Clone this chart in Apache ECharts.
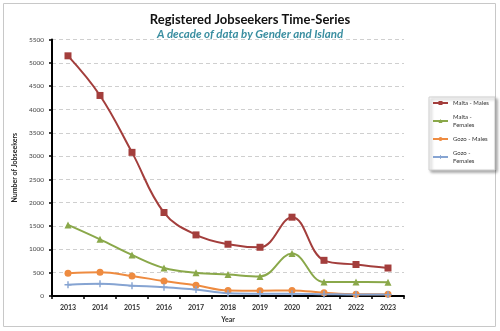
<!DOCTYPE html>
<html><head><meta charset="utf-8">
<script src="https://cdn.jsdelivr.net/npm/echarts@6/dist/echarts.min.js"></script>
<style>html,body{margin:0;padding:0;background:#fff}#c{width:500px;height:331px}</style>
</head><body><div id="c"></div>
<script>
const years = ['2013','2014','2015','2016','2017','2018','2019','2020','2021','2022','2023'];
const maltaMales = [5150,4300,3080,1790,1310,1110,1045,1690,765,675,600];
const maltaFemales = [1525,1215,880,600,500,460,420,910,300,300,295];
const gozoMales = [490,510,430,320,230,120,115,120,70,40,40];
const gozoFemales = [240,260,220,190,140,60,50,50,40,30,30];
const seriesNames = ['Malta - Males','Malta - Females','Gozo - Males','Gozo - Females'];
const legendLabels = {'Malta - Males':'Malta - Males','Malta - Females':'Malta -\nFemales','Gozo - Males':'Gozo - Males','Gozo - Females':'Gozo -\nFemales'};
const FONT = 'Lato, "Open Sans", sans-serif';
const plus = 'path://M4,0 L6,0 L6,4 L10,4 L10,6 L6,6 L6,10 L4,10 L4,6 L0,6 L0,4 L4,4 Z';
function mk(name, data, color, symbol, size){
  return {name, type:'line', data, smooth:0.4, symbol, symbolSize:size,
    lineStyle:{color, width:2}, itemStyle:{color}, z:3};
}
const chart = echarts.init(document.getElementById('c'), null, {renderer:'canvas'});
chart.setOption({
  animation:false,
  textStyle:{fontFamily:FONT},
  graphic:[{type:'rect', shape:{x:3.5,y:3.5,width:492,height:323}, style:{fill:'none', stroke:'#c8c8c8', lineWidth:1}, z:-1}],
  title:[{text:'Registered Jobseekers Time-Series', left:'center', top:8,
    textStyle:{fontFamily:FONT, fontSize:13, fontWeight:'bold', color:'#111'}},
    {text:'A decade of data by Gender and Island', left:'center', top:23,
    textStyle:{fontFamily:FONT, fontSize:11.5, fontWeight:'bold', fontStyle:'italic', color:'#3a8ea0'}}],
  grid:{left:52, right:96, top:39.5, bottom:35, containLabel:false},
  legend:{orient:'vertical', left:429, top:97, width:54, itemWidth:15, itemHeight:5, itemGap:6,
    padding:[2,6,5,3], backgroundColor:'#fff', borderColor:'#d0d0d0', borderWidth:1,
    shadowColor:'rgba(0,0,0,0.35)', shadowBlur:3, shadowOffsetX:2, shadowOffsetY:2,
    textStyle:{fontSize:6, color:'#333', fontFamily:FONT, lineHeight:8},
    formatter:n=>legendLabels[n], data:seriesNames},
  xAxis:{type:'category', data:years, boundaryGap:true,
    name:'Year', nameLocation:'middle', nameGap:20,
    nameTextStyle:{fontSize:7, fontWeight:'bold', color:'#333'},
    axisLine:{lineStyle:{color:'#000', width:2}},
    axisTick:{show:true, length:3, lineStyle:{color:'#000', width:1.5}},
    axisLabel:{fontSize:7, fontWeight:'bold', color:'#333', margin:8}},
  yAxis:{type:'value', min:0, max:5500, interval:500,
    name:'Number of Jobseekers', nameLocation:'middle', nameGap:32,
    nameTextStyle:{fontSize:7, fontWeight:'bold', color:'#222'},
    axisLine:{show:true, lineStyle:{color:'#000', width:2}},
    axisTick:{show:true, length:3, lineStyle:{color:'#000', width:1.5}},
    axisLabel:{fontSize:6.5, color:'#444', margin:8, formatter:v=>String(v)},
    splitLine:{lineStyle:{color:'#cfcfcf', type:[4,3], width:1}}},
  series:[
    mk('Malta - Males', maltaMales, '#a33e3c', 'rect', 7),
    mk('Malta - Females', maltaFemales, '#8aa84a', 'triangle', 7),
    mk('Gozo - Males', gozoMales, '#ee8b40', 'circle', 7),
    mk('Gozo - Females', gozoFemales, '#86a4d2', plus, 7)
  ]
});
</script></body></html>
